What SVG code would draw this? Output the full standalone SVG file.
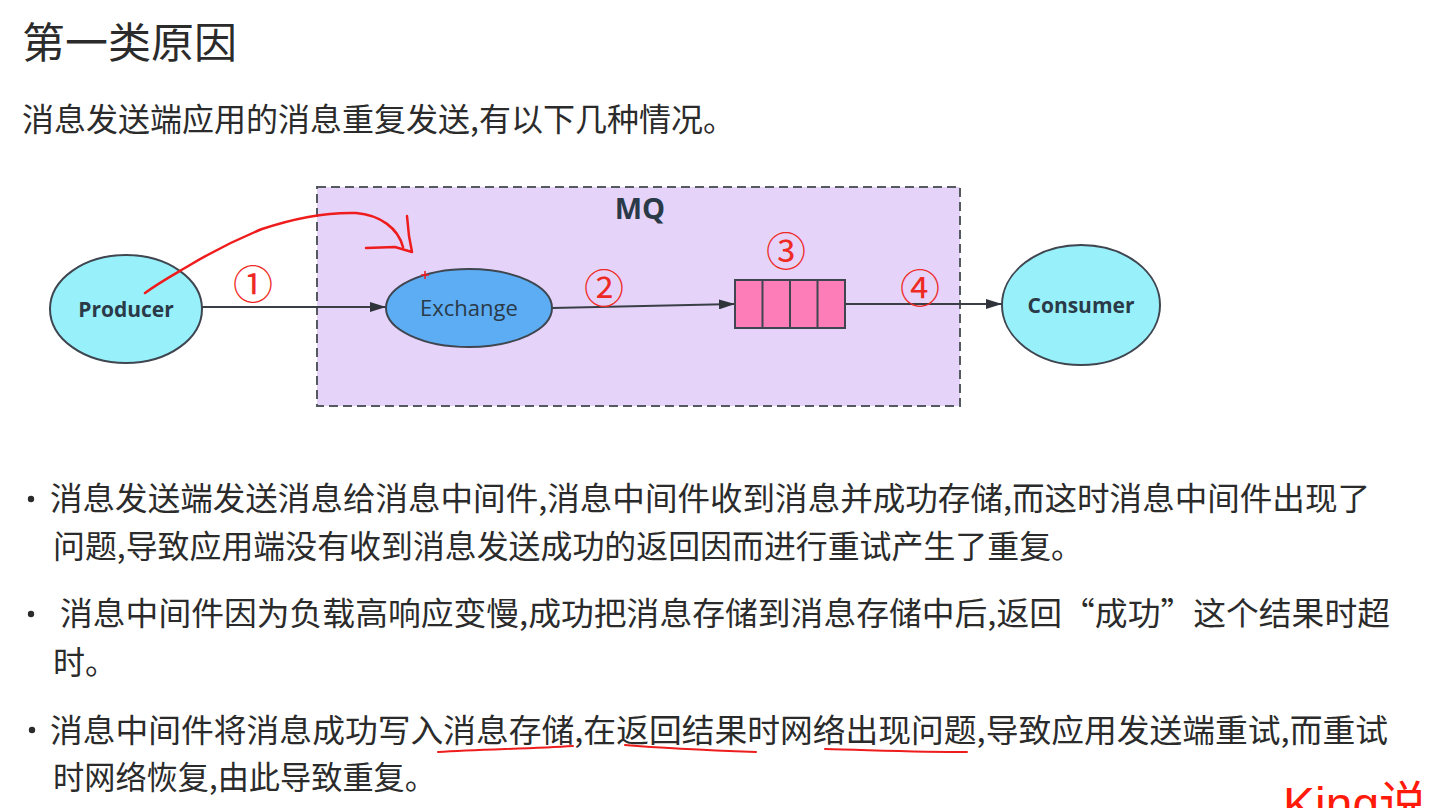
<svg xmlns="http://www.w3.org/2000/svg" width="1453" height="808" viewBox="0 0 1453 808">
<style>
.body{font-family:"Noto Sans CJK SC","Liberation Sans",sans-serif;font-size:32px;fill:#2b2b2b}
.title{font-family:"Noto Sans CJK SC","Liberation Sans",sans-serif;font-size:42px;fill:#2b2b2b}
.node{stroke:#3f4650;stroke-width:2}
.lbl{font-family:"Open Sans","Liberation Sans",sans-serif;font-size:22px;fill:#2a3a48;text-anchor:middle}
.bold{font-weight:bold;font-size:21px}
.num{font-family:"Noto Sans CJK SC","DejaVu Sans",sans-serif;font-size:40px;fill:#ee2a24;text-anchor:middle}
.conn{stroke:#3a3f46;stroke-width:2;fill:none;marker-end:url(#ah)}
.ink{stroke:#ee1c1c;stroke-width:2.5;fill:none;stroke-linecap:round;stroke-linejoin:round}
.dot{fill:#2b2b2b}
</style>
<defs>
<marker id="ah" viewBox="0 0 16 10" refX="16" refY="5" markerWidth="16" markerHeight="10" markerUnits="userSpaceOnUse" orient="auto">
<path d="M0,0 L16,5 L0,10 z" fill="#2f343a"/>
</marker>
</defs>
<rect width="1453" height="808" fill="#ffffff"/>

<text class="title" x="22" y="58" textLength="215" lengthAdjust="spacingAndGlyphs">第一类原因</text>
<text class="body" x="22" y="131" textLength="713" lengthAdjust="spacingAndGlyphs">消息发送端应用的消息重复发送,有以下几种情况。</text>

<g id="mq">
<rect x="317" y="187" width="643" height="219" fill="#e6d3fa" stroke="#555a60" stroke-width="2" stroke-dasharray="9,5"/>
<text class="lbl" x="640" y="219" style="font-size:29px;font-weight:bold">MQ</text>
</g>

<g id="connectors">
<line class="conn" x1="202" y1="307" x2="386" y2="307"/>
<line class="conn" x1="552" y1="308" x2="735" y2="304"/>
<line class="conn" x1="845" y1="304" x2="1002" y2="304"/>
</g>

<g id="producer">
<ellipse class="node" cx="126" cy="309" rx="76" ry="54" fill="#98f1fa"/>
<text class="lbl bold" x="126" y="317">Producer</text>
</g>
<g id="exchange">
<ellipse class="node" cx="469" cy="308" rx="83" ry="39" fill="#5dadf4"/>
<text class="lbl" x="469" y="316">Exchange</text>
</g>
<g id="queue">
<rect class="node" x="735" y="280" width="110" height="48" fill="#fc7db7"/>
<line class="node" x1="762.5" y1="280" x2="762.5" y2="328"/>
<line class="node" x1="790" y1="280" x2="790" y2="328"/>
<line class="node" x1="817.5" y1="280" x2="817.5" y2="328"/>
</g>
<g id="consumer">
<ellipse class="node" cx="1081" cy="305" rx="79" ry="60" fill="#98f1fa"/>
<text class="lbl bold" x="1081" y="313">Consumer</text>
</g>

<g id="step-labels">
<text class="num" x="253" y="299">①</text>
<text class="num" x="604" y="303">②</text>
<text class="num" x="786" y="266">③</text>
<text class="num" x="920" y="303">④</text>
</g>

<g id="annotation">
<path class="ink" d="M145,293 C160,282 175,274 190,265 C215,250 240,238 262,229 C292,219 322,212 356,213 C380,215 398,228 403,247"/>
<path class="ink" d="M366,248 L395,247 L412,252 M407,216 L409,236 L412,252"/>
<path d="M421,275 h8 M425,271 v8" stroke="#ee1c1c" stroke-width="1.5"/>
</g>

<g id="bullets">
<circle class="dot" cx="31" cy="499" r="3.2"/>
<text class="body" x="50" y="510" textLength="1320" lengthAdjust="spacingAndGlyphs">消息发送端发送消息给消息中间件,消息中间件收到消息并成功存储,而这时消息中间件出现了</text>
<text class="body" x="53" y="558" textLength="1030" lengthAdjust="spacingAndGlyphs">问题,导致应用端没有收到消息发送成功的返回因而进行重试产生了重复。</text>
<circle class="dot" cx="31" cy="614" r="3.2"/>
<text class="body" x="60" y="625" textLength="1330" lengthAdjust="spacingAndGlyphs">消息中间件因为负载高响应变慢,成功把消息存储到消息存储中后,返回“成功”这个结果时超</text>
<text class="body" x="53" y="674">时。</text>
<circle class="dot" cx="32" cy="730" r="3.2"/>
<text class="body" x="50" y="742" textLength="1338" lengthAdjust="spacingAndGlyphs">消息中间件将消息成功写入消息存储,在返回结果时网络出现问题,导致应用发送端重试,而重试</text>
<text class="body" x="53" y="789" textLength="383" lengthAdjust="spacingAndGlyphs">时网络恢复,由此导致重复。</text>
</g>

<g id="underlines">
<path class="ink" d="M438,752 C480,749 530,749 573,746" style="stroke-width:2"/>
<path class="ink" d="M625,745 C660,748 700,750 756,752" style="stroke-width:2"/>
<path class="ink" d="M825,749 C870,750 920,752 967,752" style="stroke-width:2"/>
</g>

<text x="1283" y="821" style="font-family:'Liberation Sans','Noto Sans CJK SC',sans-serif;font-size:48px;fill:#ff1a0a">King说</text>
</svg>
